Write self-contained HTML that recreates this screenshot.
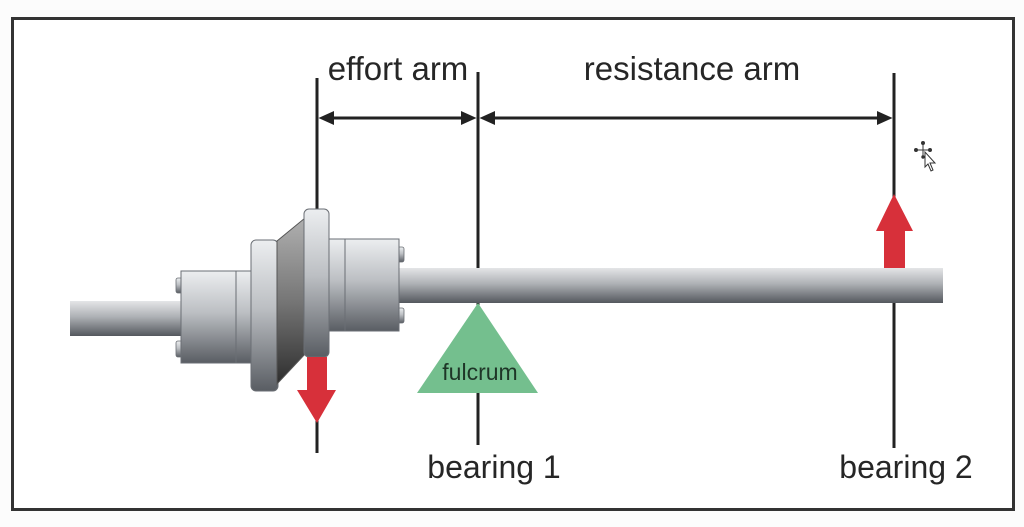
<!DOCTYPE html>
<html><head><meta charset="utf-8">
<style>
html,body{margin:0;padding:0;background:#fff;}
svg{display:block;}
text{font-family:"Liberation Sans",Arial,sans-serif;}
</style></head>
<body>
<svg width="1024" height="527" viewBox="0 0 1024 527" xmlns="http://www.w3.org/2000/svg">
<defs>
<linearGradient id="g" x1="0" y1="0" x2="0" y2="1">
<stop offset="0" stop-color="#eceef0"/>
<stop offset="0.45" stop-color="#bcbfc3"/>
<stop offset="1" stop-color="#595d63"/>
</linearGradient>
<linearGradient id="gs" x1="0" y1="0" x2="0" y2="1">
<stop offset="0" stop-color="#e4e5e7"/>
<stop offset="0.45" stop-color="#aeb1b5"/>
<stop offset="1" stop-color="#54585e"/>
</linearGradient>
<linearGradient id="gc" x1="0" y1="0" x2="0" y2="1">
<stop offset="0" stop-color="#b0b0b0"/>
<stop offset="0.5" stop-color="#767676"/>
<stop offset="1" stop-color="#2e2e2e"/>
</linearGradient>
</defs>
<rect x="0" y="0" width="1024" height="527" fill="#fcfcfc"/>
<rect x="12.5" y="18.5" width="1001" height="491" fill="#fff" stroke="#333" stroke-width="3"/>

<!-- vertical dimension lines -->
<line x1="317" y1="78" x2="317" y2="453" stroke="#222" stroke-width="3"/>
<line x1="478" y1="72" x2="478" y2="445" stroke="#222" stroke-width="3"/>
<line x1="894" y1="73" x2="894" y2="448" stroke="#222" stroke-width="3"/>

<!-- horizontal arrows -->
<line x1="330" y1="118" x2="464" y2="118" stroke="#222" stroke-width="3"/>
<polygon points="318.5,118 334,111 334,125" fill="#222"/>
<polygon points="476.5,118 461,111 461,125" fill="#222"/>
<line x1="492" y1="118" x2="880" y2="118" stroke="#222" stroke-width="3"/>
<polygon points="479.5,118 495,111 495,125" fill="#222"/>
<polygon points="892.5,118 877,111 877,125" fill="#222"/>

<!-- left shaft -->
<rect x="70" y="301" width="114" height="35" fill="url(#gs)"/>
<!-- left hub bolts -->
<rect x="176" y="278" width="7" height="15" rx="2" fill="url(#g)" stroke="#6a6e74" stroke-width="0.8"/>
<rect x="176" y="341" width="7" height="16" rx="2" fill="url(#g)" stroke="#6a6e74" stroke-width="0.8"/>
<!-- left hub -->
<rect x="181" y="271" width="70" height="92" fill="url(#g)" stroke="#6a6e74" stroke-width="1"/>
<line x1="236" y1="271" x2="236" y2="363" stroke="#6a6e74" stroke-width="1"/>
<!-- main shaft -->
<rect x="398" y="268" width="545" height="35" fill="url(#gs)"/>
<!-- right hub bolts -->
<rect x="397" y="247" width="7" height="15" rx="2" fill="url(#g)" stroke="#6a6e74" stroke-width="0.8"/>
<rect x="397" y="308" width="7" height="15" rx="2" fill="url(#g)" stroke="#6a6e74" stroke-width="0.8"/>
<!-- right hub -->
<rect x="328" y="239" width="71" height="92" fill="url(#g)" stroke="#6a6e74" stroke-width="1"/>
<line x1="345" y1="239" x2="345" y2="331" stroke="#6a6e74" stroke-width="1"/>
<!-- left flange -->
<rect x="251" y="240" width="27" height="151" rx="5" fill="url(#g)" stroke="#6a6e74" stroke-width="1"/>
<!-- cone -->
<polygon points="277,241 305,218 305,354 277,384" fill="url(#gc)" stroke="#555" stroke-width="1"/>
<!-- right flange -->
<rect x="304" y="209" width="25" height="148" rx="5" fill="url(#g)" stroke="#6a6e74" stroke-width="1"/>

<!-- red down arrow -->
<polygon points="307,357 327,357 327,390 336,390 317,423 297,390 307,390" fill="#d7303a"/>
<!-- red up arrow -->
<polygon points="884,268 905,268 905,231 913,231 894,194 876,231 884,231" fill="#d7303a"/>

<!-- fulcrum -->
<polygon points="478,303 538,393 417,393" fill="#74bf8e"/>
<text x="480" y="380" font-size="23" fill="#1e3527" text-anchor="middle">fulcrum</text>

<!-- labels -->
<text x="398" y="80" font-size="33" fill="#262626" text-anchor="middle">effort arm</text>
<text x="692" y="80" font-size="33" fill="#262626" text-anchor="middle">resistance arm</text>
<text x="494" y="478" font-size="32" fill="#262626" text-anchor="middle">bearing 1</text>
<text x="906" y="478" font-size="32" fill="#262626" text-anchor="middle">bearing 2</text>

<!-- cursor -->
<g stroke="#333" stroke-width="1" fill="#333">
<circle cx="923" cy="143" r="1.5"/>
<circle cx="916" cy="150" r="1.5"/>
<circle cx="930" cy="150" r="1.5"/>
<circle cx="923" cy="157" r="1.2"/>
<line x1="923" y1="144" x2="923" y2="156"/>
<line x1="917" y1="150" x2="929" y2="150"/>
</g>
<polygon points="925,152 925,167 928,164 931,171 933,170 930,163 935,163" fill="#fff" stroke="#333" stroke-width="1"/>
</svg>
</body></html>
